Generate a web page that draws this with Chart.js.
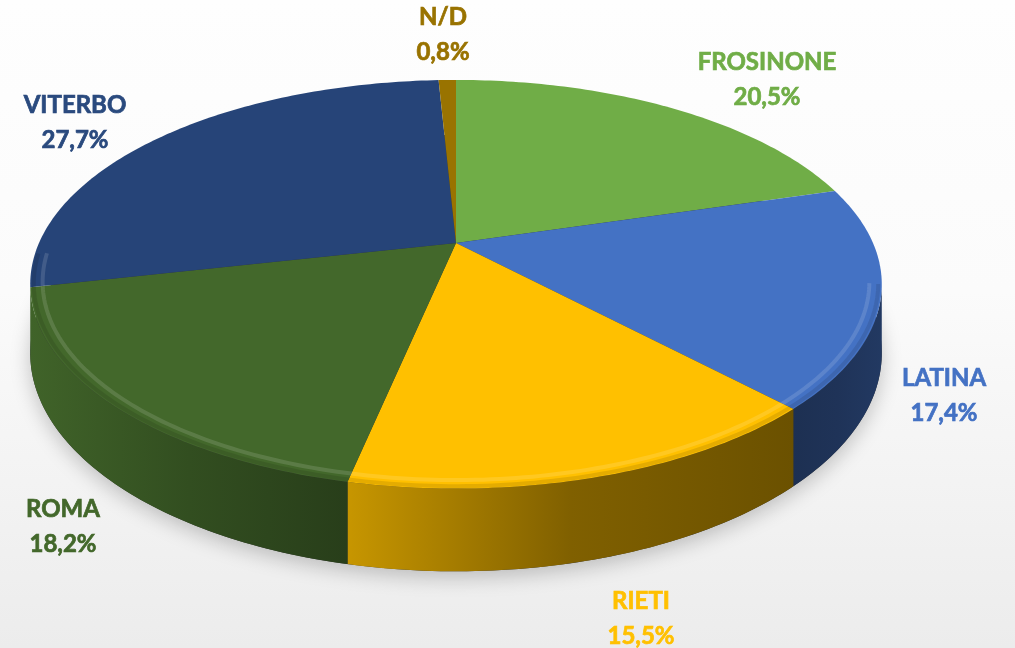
<!DOCTYPE html>
<html>
<head>
<meta charset="utf-8">
<script src="https://cdn.jsdelivr.net/npm/chart.js@4.4.1/dist/chart.umd.min.js"></script>
<style>
  html, body { margin: 0; padding: 0; }
  #wrap {
    width: 1015px; height: 648px;
    background: linear-gradient(to bottom, #fefefe 0%, #fbfbfb 45%, #ececec 100%);
  }
</style>
</head>
<body>
<div id="wrap"><canvas id="chart"></canvas></div>
<script>
const provinces = ['FROSINONE', 'LATINA', 'RIETI', 'ROMA', 'VITERBO', 'N/D']
const shares = [20.5, 17.4, 15.5, 18.2, 27.7, 0.8]
const sliceColors = ['#70AD47', '#4472C4', '#FFC000', '#43682B', '#264478', '#997300']

// darken a hex colour by factor f
function shade(hex, f) {
  const n = parseInt(hex.slice(1), 16)
  const r = Math.round(((n >> 16) & 255) * f)
  const g = Math.round(((n >> 8) & 255) * f)
  const b = Math.round((n & 255) * f)
  return `rgb(${r},${g},${b})`
}

const pct = v => v.toFixed(1).replace('.', ',') + '%'

// draws the pie as a tilted disc with a side wall, using the arc angles Chart.js computed
const pie3d = {
  id: 'pie3d',
  beforeDatasetsDraw(chart, args, opts) {
    const arcs = chart.getDatasetMeta(0).data
    if (!arcs.length) return false
    const ctx = chart.ctx
    const cx = arcs[0].x, cy = arcs[0].y
    const { rx, ry, depth, persp: p } = opts

    const proj = (a, h, k = 1) => {
      const u = Math.cos(a) * k, v = Math.sin(a) * k
      const w = 1 - p * v
      return [cx + rx * u / w, cy + ry * v / w + h * depth / w]
    }
    const trace = (a0, a1, h, k, first) => {
      const n = Math.max(2, Math.ceil(Math.abs(a1 - a0) * 60))
      for (let i = 0; i <= n; i++) {
        const pt = proj(a0 + (a1 - a0) * i / n, h, k)
        if (first && i === 0) ctx.moveTo(pt[0], pt[1])
        else ctx.lineTo(pt[0], pt[1])
      }
    }

    const vis0 = Math.asin(p), vis1 = Math.PI - Math.asin(p)

    ctx.save()

    // soft shadow under the disc
    ctx.save()
    ctx.beginPath()
    trace(0, Math.PI * 2, 1, 1, true)
    ctx.closePath()
    ctx.shadowColor = 'rgba(0,0,0,0.22)'
    ctx.shadowBlur = 20
    ctx.shadowOffsetY = 6
    ctx.fillStyle = '#333'
    ctx.fill()
    ctx.restore()

    // side walls
    arcs.forEach((arc, i) => {
      const s = Math.max(arc.startAngle, vis0), e = Math.min(arc.endAngle, vis1)
      if (s >= e) return
      const col = arc.options.backgroundColor
      const [wl, wm, wr] = opts.wallShade[i]
      const xl = proj(e, 0)[0], xr = proj(s, 0)[0]
      const g = ctx.createLinearGradient(xl, 0, xr, 0)
      g.addColorStop(0, shade(col, wl))
      g.addColorStop(0.5, shade(col, wm))
      g.addColorStop(1, shade(col, wr))
      ctx.beginPath()
      trace(s, e, 0, 1, true)
      trace(e, s, 1, 1, false)
      ctx.closePath()
      ctx.fillStyle = g
      ctx.fill()
    })

    // top faces
    arcs.forEach(arc => {
      ctx.beginPath()
      ctx.moveTo(cx, cy)
      trace(arc.startAngle, arc.endAngle, 0, 1, false)
      ctx.closePath()
      ctx.fillStyle = arc.options.backgroundColor
      ctx.fill()
    })

    // bevel: light band just inside the front rim, darker shoulder at the edge
    arcs.forEach(arc => {
      const s = Math.max(arc.startAngle, vis0), e = Math.min(arc.endAngle, vis1 + 0.15)
      if (s >= e) return
      ctx.beginPath()
      trace(s, e, 0, 0.972, true)
      ctx.strokeStyle = 'rgba(255,255,255,0.13)'
      ctx.lineWidth = 4
      ctx.stroke()
      ctx.beginPath()
      trace(s, e, 0, 0.992, true)
      ctx.strokeStyle = 'rgba(0,0,0,0.10)'
      ctx.lineWidth = 4
      ctx.stroke()
    })

    ctx.restore()
    return false
  },
  afterDraw(chart, args, opts) {
    const arcs = chart.getDatasetMeta(0).data
    if (!arcs.length) return
    const ctx = chart.ctx
    const cx = arcs[0].x, cy = arcs[0].y
    ctx.save()
    ctx.font = 'bold 24px Lato'
    ctx.textAlign = 'center'
    ctx.textBaseline = 'alphabetic'
    ctx.lineWidth = 0.7
    chart.data.labels.forEach((name, i) => {
      const [dx, dy] = opts.labelOffsets[i]
      const val = pct(chart.data.datasets[0].data[i])
      ctx.fillStyle = opts.labelColors[i]
      ctx.strokeStyle = opts.labelColors[i]
      ctx.fillText(name, cx + dx, cy + dy)
      ctx.strokeText(name, cx + dx, cy + dy)
      ctx.fillText(val, cx + dx, cy + dy + 35)
      ctx.strokeText(val, cx + dx, cy + dy + 35)
    })
    ctx.restore()
  }
}

new Chart(document.getElementById('chart'), {
  type: 'pie',
  data: {
    labels: provinces,
    datasets: [{
      data: shares,
      backgroundColor: sliceColors,
      borderWidth: 0,
      hoverOffset: 0
    }]
  },
  options: {
    responsive: true,
    maintainAspectRatio: false,
    animation: false,
    events: [],
    layout: { padding: { left: 0, right: 103, top: 0, bottom: 162 } },
    plugins: {
      legend: { display: false },
      tooltip: { enabled: false },
      pie3d: {
        rx: 417,
        ry: 196,
        depth: 66,
        persp: 0.202,
        wallShade: [[0.8, 0.6, 0.5], [0.42, 0.45, 0.5], [0.78, 0.5, 0.42], [0.95, 0.75, 0.6], [0.8, 0.7, 0.6], [0.8, 0.6, 0.5]],
        labelOffsets: [[311, -173], [488, 143], [185, 366], [-393, 274], [-381, -130], [-13, -218]],
        labelColors: ['#70AD47', '#4472C4', '#FFC000', '#43682B', '#2A4A7E', '#997300']
      }
    }
  },
  plugins: [pie3d]
})
</script>
</body>
</html>
